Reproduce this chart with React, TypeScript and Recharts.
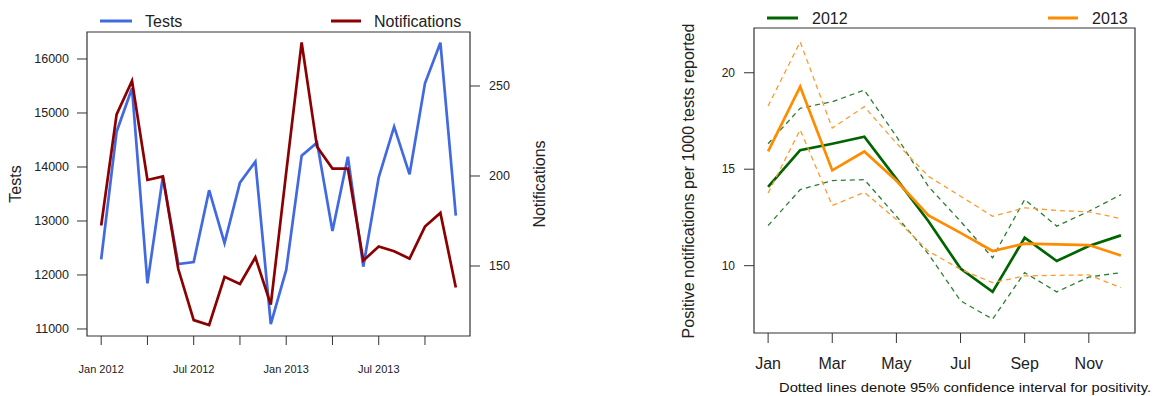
import { LineChart, Line, XAxis, YAxis, ReferenceArea } from "recharts";

// ---------- left panel: monthly tests and notifications ----------
const monthKeys = [
  "2012-01", "2012-02", "2012-03", "2012-04", "2012-05", "2012-06",
  "2012-07", "2012-08", "2012-09", "2012-10", "2012-11", "2012-12",
  "2013-01", "2013-02", "2013-03", "2013-04", "2013-05", "2013-06",
  "2013-07", "2013-08", "2013-09", "2013-10", "2013-11", "2013-12",
];

const testsByMonth = [
  12290, 14654, 15457, 11846, 13820, 12204, 12241, 13570, 12592, 13710, 14099, 11090,
  12093, 14210, 14451, 12815, 14191, 12154, 13809, 14747, 13864, 15549, 16302, 13099,
];

const notificationsByMonth = [
  172.5, 234.2, 252.8, 197.8, 199.8, 148.3, 119.9, 117.2, 144.0, 140.0, 154.8, 128.5,
  202, 274.2, 216.2, 204.1, 204.1, 153.0, 160.8, 158.2, 154.1, 171.9, 179.5, 138.1,
];

const leftTicks = [0, 3, 6, 9, 12, 15, 18, 21];
const leftTickLabels: Record<number, string> = {
  0: "Jan 2012",
  6: "Jul 2012",
  12: "Jan 2013",
  18: "Jul 2013",
};

// ---------- right panel: positivity by calendar month ----------
const monthNames = ["Jan", "Feb", "Mar", "Apr", "May", "Jun", "Jul", "Aug", "Sep", "Oct", "Nov", "Dec"];

const pos2012 = [14.08, 15.99, 16.32, 16.68, 14.5, 12.3, 9.85, 8.64, 11.45, 10.24, 11.02, 11.57];
const pos2012Hi = [16.32, 18.16, 18.5, 19.1, 16.7, 14.1, 12.3, 10.41, 13.43, 12.05, 12.82, 13.68];
const pos2012Lo = [12.08, 13.94, 14.41, 14.46, 12.56, 10.6, 8.18, 7.23, 9.64, 8.64, 9.41, 9.64];

const pos2013 = [15.92, 19.28, 14.94, 15.92, 14.4, 12.6, 11.7, 10.76, 11.14, 11.1, 11.07, 10.53];
const pos2013Hi = [18.28, 21.6, 17.13, 18.24, 16.35, 14.63, 13.6, 12.56, 13.0, 12.86, 12.79, 12.44];
const pos2013Lo = [13.77, 17.04, 13.12, 13.8, 12.39, 10.75, 9.81, 9.12, 9.47, 9.5, 9.52, 8.86];

const rightTicks = [1, 3, 5, 7, 9, 11];

const FONT = "'Liberation Sans', Arial, Helvetica, sans-serif";
const INK = "#222";
const BOX = "#333";

const leftData = monthKeys.map((k, i) => ({
  month: k,
  idx: i,
  tests: testsByMonth[i],
  notif: notificationsByMonth[i],
}));

const rightData = monthNames.map((m, i) => ({
  name: m,
  m: i + 1,
  g: pos2012[i],
  gHi: pos2012Hi[i],
  gLo: pos2012Lo[i],
  o: pos2013[i],
  oHi: pos2013Hi[i],
  oLo: pos2013Lo[i],
}));

// R style axis range (data range +4% each side)
const LEFT_X = [-0.92, 23.92];
const TESTS_Y = [10870, 16500];
const NOTIF_Y = [111.1, 280];
const RIGHT_X = [0.56, 12.44];
const RIGHT_Y = [6.51, 22.32];

function TestsChart() {
  return (
    <LineChart
      width={580}
      height={396}
      data={leftData}
      margin={{ top: 32, right: 0, bottom: 0, left: 0 }}
    >
      <XAxis
        dataKey="idx"
        type="number"
        domain={LEFT_X}
        allowDataOverflow
        ticks={leftTicks}
        interval={0}
        height={60}
        axisLine={false}
        tickLine={{ stroke: BOX }}
        tickSize={9}
        tickMargin={20}
        tickFormatter={(v: number) => leftTickLabels[v] ?? ""}
        tick={{ fontSize: 11, fill: INK, fontFamily: FONT }}
      />
      <YAxis
        yAxisId="tests"
        width={87}
        domain={TESTS_Y}
        allowDataOverflow
        ticks={[11000, 12000, 13000, 14000, 15000, 16000]}
        axisLine={false}
        tickLine={{ stroke: BOX }}
        tickSize={10}
        tickMargin={8}
        tick={{ fontSize: 12.5, fill: INK, fontFamily: FONT }}
      />
      <YAxis
        yAxisId="notif"
        orientation="right"
        width={110}
        domain={NOTIF_Y}
        allowDataOverflow
        ticks={[150, 200, 250]}
        axisLine={false}
        tickLine={{ stroke: BOX }}
        tickSize={10}
        tickMargin={9}
        tick={{ fontSize: 12.5, fill: INK, fontFamily: FONT }}
      />
      <ReferenceArea
        yAxisId="tests"
        x1={LEFT_X[0]}
        x2={LEFT_X[1]}
        y1={TESTS_Y[0]}
        y2={TESTS_Y[1]}
        fill="none"
        fillOpacity={0}
        stroke={BOX}
        strokeWidth={1.2}
      />
      <Line
        yAxisId="tests"
        dataKey="tests"
        stroke="#4169E1"
        strokeWidth={2.7}
        dot={false}
        strokeLinejoin="miter"
        isAnimationActive={false}
      />
      <Line
        yAxisId="notif"
        dataKey="notif"
        stroke="#8B0000"
        strokeWidth={2.7}
        dot={false}
        strokeLinejoin="miter"
        isAnimationActive={false}
      />
    </LineChart>
  );
}

function PositivityChart() {
  const dashed = { strokeWidth: 1.3, strokeDasharray: "5 4", dot: false, isAnimationActive: false };
  return (
    <LineChart
      width={517}
      height={396}
      data={rightData}
      margin={{ top: 28, right: 22, bottom: 0, left: 0 }}
    >
      <XAxis
        dataKey="m"
        type="number"
        domain={RIGHT_X}
        allowDataOverflow
        ticks={rightTicks}
        interval={0}
        height={63}
        axisLine={false}
        tickLine={{ stroke: BOX }}
        tickSize={10}
        tickMargin={15}
        tickFormatter={(v: number) => monthNames[v - 1]}
        tick={{ fontSize: 16, fill: INK, fontFamily: FONT }}
      />
      <YAxis
        width={114}
        domain={RIGHT_Y}
        allowDataOverflow
        ticks={[10, 15, 20]}
        axisLine={false}
        tickLine={{ stroke: BOX }}
        tickSize={10}
        tickMargin={9}
        tick={{ fontSize: 12, fill: INK, fontFamily: FONT }}
      />
      <ReferenceArea
        x1={RIGHT_X[0]}
        x2={RIGHT_X[1]}
        y1={RIGHT_Y[0]}
        y2={RIGHT_Y[1]}
        fill="none"
        fillOpacity={0}
        stroke={BOX}
        strokeWidth={1.2}
      />
      <Line dataKey="gHi" stroke="#2E7D32" {...dashed} />
      <Line dataKey="gLo" stroke="#2E7D32" {...dashed} />
      <Line dataKey="g" stroke="#006400" strokeWidth={2.7} dot={false} isAnimationActive={false} />
      <Line dataKey="oHi" stroke="#FF9A2E" {...dashed} />
      <Line dataKey="oLo" stroke="#FF9A2E" {...dashed} />
      <Line dataKey="o" stroke="#FF8C00" strokeWidth={2.7} dot={false} isAnimationActive={false} />
    </LineChart>
  );
}

export default function App() {
  return (
    <div
      style={{
        position: "absolute",
        left: 0,
        top: 0,
        width: 1157,
        height: 396,
        background: "#fff",
        fontFamily: FONT,
        overflow: "hidden",
      }}
    >
      <div style={{ position: "absolute", left: 0, top: 0 }}>
        <TestsChart />
      </div>
      <div style={{ position: "absolute", left: 640, top: 0 }}>
        <PositivityChart />
      </div>
      {/* legends, axis titles and footnote */}
      <svg
        width={1157}
        height={396}
        style={{ position: "absolute", left: 0, top: 0, pointerEvents: "none" }}
        fontFamily={FONT}
      >
        <line x1={100} x2={132} y1={21} y2={21} stroke="#4169E1" strokeWidth={3} />
        <text x={145} y={27} fontSize={16} fill={INK}>Tests</text>
        <line x1={331} x2={361} y1={21} y2={21} stroke="#8B0000" strokeWidth={3} />
        <text x={374} y={27} fontSize={16} fill={INK}>Notifications</text>
        <text x={21} y={184} fontSize={16} fill={INK} textAnchor="middle" transform="rotate(-90 21 184)">
          Tests
        </text>
        <text x={545} y={184} fontSize={16} fill={INK} textAnchor="middle" transform="rotate(-90 545 184)">
          Notifications
        </text>

        <line x1={767} x2={798} y1={18} y2={18} stroke="#006400" strokeWidth={3} />
        <text x={812} y={24} fontSize={16} fill={INK}>2012</text>
        <line x1={1048} x2={1078} y1={18} y2={18} stroke="#FF8C00" strokeWidth={3} />
        <text x={1092} y={24} fontSize={16} fill={INK}>2013</text>
        <text x={694} y={181} fontSize={16} fill={INK} textAnchor="middle" transform="rotate(-90 694 181)">
          Positive notifications per 1000 tests reported
        </text>
        <text x={779} y={392} fontSize={12.5} fill="#111" textLength={372} lengthAdjust="spacingAndGlyphs">
          Dotted lines denote 95% confidence interval for positivity.
        </text>
      </svg>
    </div>
  );
}
